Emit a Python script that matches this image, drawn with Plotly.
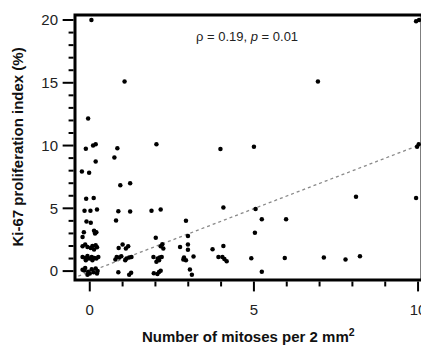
import plotly.graph_objects as go

# Data
mitoses = [
    # ~0
    0.05, -0.05, -0.12, 0.10, 0.18, 0.18, -0.24, -0.02, -0.11, 0.12,
    -0.16, 0.02, 0.22, -0.10, 0.03, -0.18, -0.22, 0.13, 0.20, 0.16,
    -0.22, -0.14, -0.07, 0.03, 0.08, 0.18, 0.22, 0.13,
    -0.22, -0.14, -0.07, -0.02, 0.06, 0.14, 0.20, 0.26, 0.08, -0.12,
    -0.22, -0.14, -0.05, 0.00, 0.06, 0.12, 0.18, 0.24, -0.07, 0.22, -0.17,
    # ~1
    1.06, 0.84, 0.75, 0.93, 1.23, 0.87, 1.23, 0.80,
    1.00, 0.88, 1.17, 1.10,
    0.82, 0.90, 0.96, 0.78, 1.12, 1.20, 1.27, 1.08,
    0.87, 1.26, 1.20,
    # ~2
    2.03, 1.88, 2.16, 2.01, 2.21, 2.16, 2.24, 1.94, 2.07, 2.13, 2.19, 2.11,
    2.03, 1.95, 2.06, 2.11, 2.16,
    # ~3
    2.93, 2.99, 2.75, 2.99, 2.99, 2.87, 2.93, 2.85, 3.16, 3.05, 3.11,
    # ~4
    3.98, 4.07, 3.74, 4.07, 3.92, 4.04, 4.10, 4.17,
    # ~5
    5.00, 5.05, 5.24, 5.03, 4.92, 5.24,
    # 6-8
    5.98, 5.94, 6.95, 7.13, 7.79, 8.23, 8.11,
    # 10
    9.94, 10.03, 9.97, 10.02, 9.94,
]
ki67 = [
    20.0, 12.15, 9.75, 10.0, 10.1, 8.72, 7.93, 7.83, 5.77, 5.83,
    4.8, 4.8, 4.9, 3.95, 3.85, 3.1, 2.71, 3.22, 3.1, 3.0,
    1.98, 2.11, 1.92, 1.84, 2.0, 2.06, 1.9, 1.72,
    1.13, 1.05, 1.21, 1.0, 1.13, 1.05, 1.0, 1.13, 0.87, 0.87,
    0.1, 0.25, -0.05, -0.2, 0.15, -0.1, 0.2, 0.0, -0.3, -0.2, 0.05,
    15.1, 9.78, 9.04, 6.83, 6.99, 4.77, 4.74, 4.03,
    2.11, 1.84, 1.98, 1.8,
    1.13, 1.08, 1.19, 0.92, 1.0, 1.08, 1.13, 0.87,
    -0.1, -0.13, -0.3,
    10.1, 4.8, 4.9, 2.66, 2.13, 1.98, 1.8, 1.13, 1.0, 1.08, 1.13, 0.87,
    0.74, -0.18, -0.24, -0.08, 0.03,
    4.0, 2.79, 1.92, 2.11, 1.69, 1.08, 0.87, 0.92, 1.16, 0.13, -0.3,
    9.72, 5.06, 1.74, 2.0, 1.13, 1.13, 0.97, 0.79,
    9.9, 4.95, 4.13, 3.06, 1.03, -0.05,
    4.13, 1.05, 15.1, 1.08, 0.92, 1.19, 5.93,
    19.9, 20.0, 9.9, 10.1, 5.83,
]
trend_x = [-0.35, 10.0]
trend_y = [-0.4, 10.0]

x_tick_values = list(range(0, 11))      # minor every 1, major every 5
y_tick_values = list(range(0, 21))

annotation_text = "ρ = 0.19, <i>p</i> = 0.01"
x_title = "<b>Number of mitoses per 2 mm<sup>2</sup></b>"
y_title = "<b>Ki-67 proliferation index (%)</b>"

# figure geometry (page has an 8px body margin)
W, H = 421, 342
ML, MR, MT, MB = 67, 3, 5, 70
PW, PH = W - ML - MR, H - MT - MB

fig = go.Figure()
fig.add_trace(go.Scatter(
    x=trend_x, y=trend_y, mode="lines",
    line=dict(color="#8a8a8a", width=1.3, dash="dot"),
    hoverinfo="skip", showlegend=False,
))
fig.add_trace(go.Scatter(
    x=mitoses, y=ki67, mode="markers",
    marker=dict(color="black", size=4.5),
    showlegend=False,
))

shapes = [dict(type="rect", xref="paper", yref="paper", x0=0, x1=1, y0=0, y1=1,
               line=dict(color="black", width=3), layer="above")]
for v in x_tick_values:
    ln = 10 if v % 5 == 0 else 5
    shapes.append(dict(type="line", xref="x", yref="paper", x0=v, x1=v,
                       y0=-1.5 / PH, y1=-(1.5 + ln) / PH,
                       line=dict(color="black", width=2), layer="above"))
for v in y_tick_values:
    ln = 11 if v % 5 == 0 else 5
    shapes.append(dict(type="line", xref="paper", yref="y", y0=v, y1=v,
                       x0=-1.5 / PW, x1=-(1.5 + ln) / PW,
                       line=dict(color="black", width=2), layer="above"))

fig.update_layout(
    width=W, height=H,
    margin=dict(l=ML, r=MR, t=MT, b=MB),
    plot_bgcolor="white", paper_bgcolor="white",
    font=dict(family="Arial", color="#222", size=15),
    shapes=shapes,
    annotations=[
        dict(text=annotation_text, x=4.8, y=18.7, xref="x", yref="y",
             showarrow=False, font=dict(size=13, color="#222")),
        dict(text=x_title, x=0.5, y=-0.209, xref="paper", yref="paper",
             xanchor="center", yanchor="middle", showarrow=False,
             font=dict(size=15, color="#111")),
        dict(text=y_title, x=-0.167, y=0.5, xref="paper", yref="paper",
             xanchor="center", yanchor="middle", textangle=-90, showarrow=False,
             font=dict(size=15, color="#111")),
    ],
)
fig.update_xaxes(
    range=[-0.45, 10.12], tickmode="linear", tick0=0, dtick=5,
    showgrid=False, zeroline=False, showline=False,
    ticks="outside", ticklen=16, tickwidth=2, tickcolor="rgba(0,0,0,0)",
    ticklabeloverflow="allow",
)
fig.update_yaxes(
    range=[-0.71, 20.4], tickmode="linear", tick0=0, dtick=5,
    showgrid=False, zeroline=False, showline=False,
    ticks="outside", ticklen=13, tickwidth=2, tickcolor="rgba(0,0,0,0)",
    ticklabeloverflow="allow",
)

fig.write_html("out.html")
